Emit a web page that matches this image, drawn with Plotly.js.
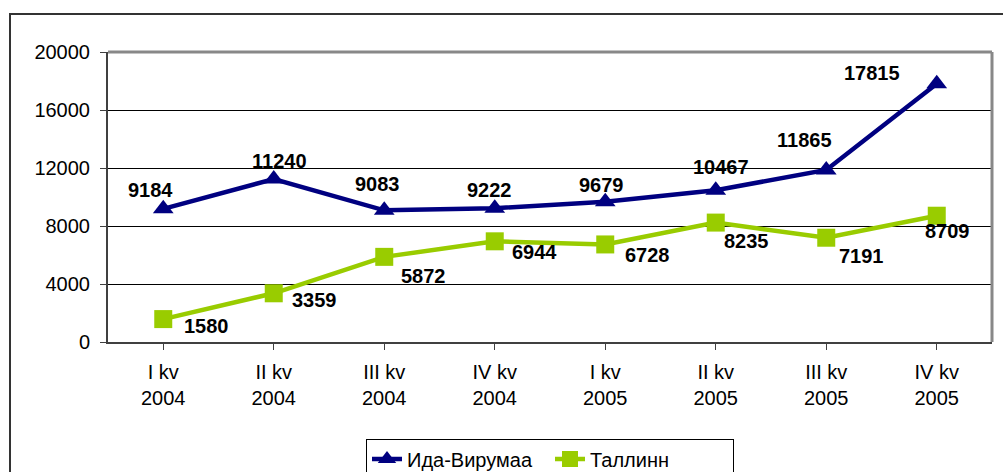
<!DOCTYPE html>
<html><head><meta charset="utf-8">
<script src="https://cdn.plot.ly/plotly-3.0.1.min.js"></script>
<style>
html,body{margin:0;padding:0;background:#fff;overflow:hidden;width:1003px;height:472px;}
#frame{position:absolute;left:9px;top:13px;width:1100px;height:600px;border:2px solid #333;box-sizing:border-box;}
#chart{position:absolute;left:0;top:0;width:1003px;height:500px;}
</style></head>
<body>
<div id="frame"></div>
<div id="chart"></div>
<script>
const categories = ["I kv<br>2004","II kv<br>2004","III kv<br>2004","IV kv<br>2004","I kv<br>2005","II kv<br>2005","III kv<br>2005","IV kv<br>2005"];
const idaVirumaa = [9184, 11240, 9083, 9222, 9679, 10467, 11865, 17815];
const tallinn = [1580, 3359, 5872, 6944, 6728, 8235, 7191, 8709];
const seriesNames = ["Ида-Вирумаа", "Таллинн"];

// label offsets (px) — styling only
const idaShift = [[-13,-19],[6,-18],[-7,-26],[-5,-18],[-4,-17],[5,-23],[-22,-30],[-65,-11]];
const talShift = [[43,7],[41,7],[39,19],[40,11],[42,11],[31,18],[35,18],[11,15]];

const idx = categories.map((c,i)=>i);
const traces = [
  {x: idx, y: idaVirumaa, name: seriesNames[0], type:'scatter', mode:'lines+markers',
   line:{color:'#000080', width:4.5}, marker:{symbol:'triangle-up', size:18, color:'#000080'}},
  {x: idx, y: tallinn, name: seriesNames[1], type:'scatter', mode:'lines+markers',
   line:{color:'#99CC00', width:4.5}, marker:{symbol:'square', size:18, color:'#99CC00'}}
];
const lblFont = {family:'Liberation Sans, Arial', size:20, color:'#000', weight:'bold'};
const annotations = [];
idaVirumaa.forEach((v,i)=>annotations.push({x:i, y:v, xref:'x', yref:'y', text:String(v), showarrow:false,
  xshift:idaShift[i][0], yshift:-idaShift[i][1], font:lblFont}));
tallinn.forEach((v,i)=>annotations.push({x:i, y:v, xref:'x', yref:'y', text:String(v), showarrow:false,
  xshift:talShift[i][0], yshift:-talShift[i][1], font:lblFont}));

const layout = {
  width:1003, height:500,
  margin:{l:108, r:11, t:52, b:158},
  paper_bgcolor:'rgba(0,0,0,0)', plot_bgcolor:'#fff',
  font:{family:'Liberation Sans, Arial', size:20, color:'#000'},
  showlegend:true,
  legend:{orientation:'h', x:0.5, xanchor:'center', y:-0.333, yanchor:'top',
    bordercolor:'#000', borderwidth:1, bgcolor:'#fff', font:{size:20}, tracegroupgap:0,
    entrywidth:138, entrywidthmode:'pixels'},
  xaxis:{range:[-0.5,7.5], tickmode:'array', tickvals:idx, ticktext:categories,
    showgrid:false, zeroline:false, showline:true, linecolor:'#404040', linewidth:2,
    ticks:'outside', ticklen:6, tickcolor:'#404040', tickwidth:1, tickson:'boundaries',
    tickfont:{size:20}, ticklabelstandoff:5, automargin:false},
  yaxis:{range:[0,20000], dtick:4000, tick0:0, tickformat:'d', showgrid:true, gridcolor:'#000', gridwidth:1,
    zeroline:false, showline:true, linecolor:'#404040', linewidth:2,
    ticks:'outside', ticklen:6, tickcolor:'#404040', tickfont:{size:20}, ticklabelstandoff:6, automargin:false},
  shapes:[
    {type:'line', xref:'paper', yref:'paper', x0:0, x1:1, y0:1, y1:1, line:{color:'#888', width:3}},
    {type:'line', xref:'paper', yref:'paper', x0:1, x1:1, y0:0, y1:1, line:{color:'#888', width:3}}
  ],
  annotations: annotations
};
Plotly.newPlot('chart', traces, layout, {displayModeBar:false, staticPlot:true});
</script>
</body></html>
